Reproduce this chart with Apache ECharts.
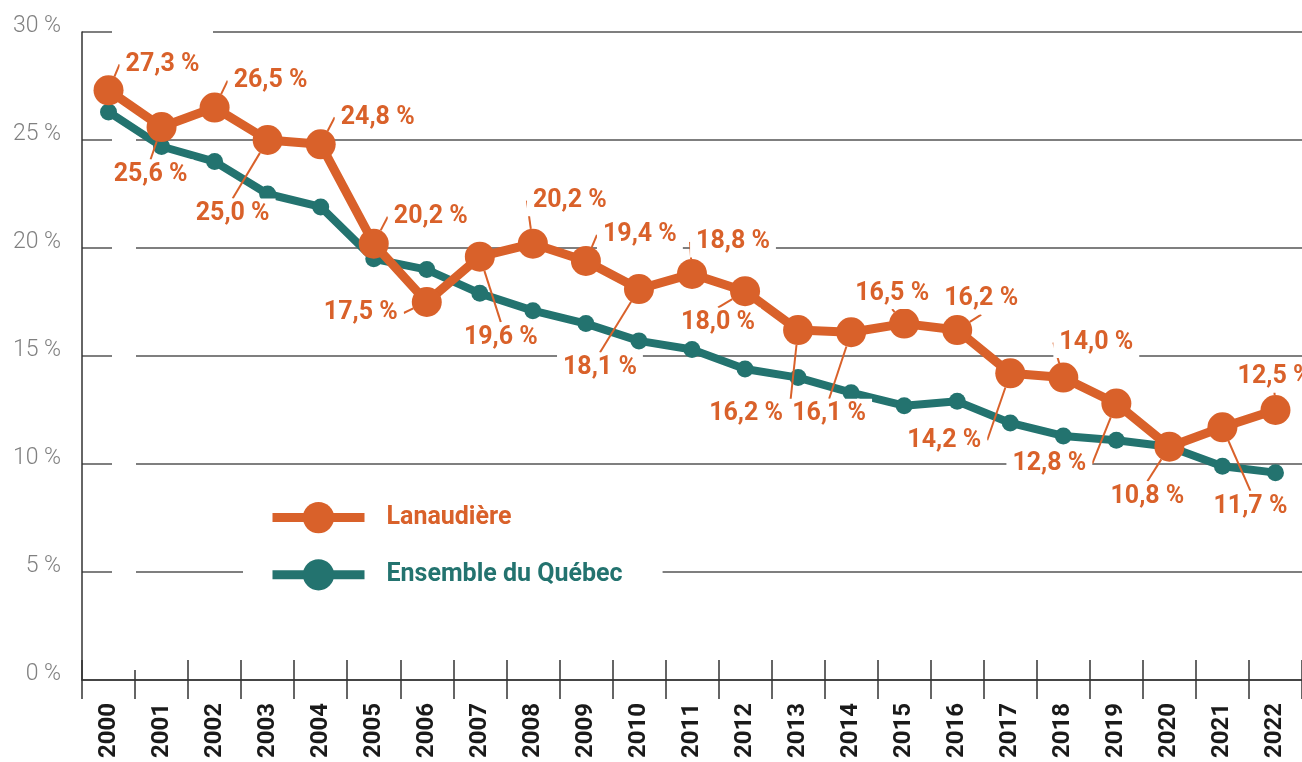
<!DOCTYPE html>
<html style="height: 100%">
<head>
    <meta charset="UTF-8">
</head>
<body style="height: 100%; margin: 0; background: #fff">
<div id="container" style="width: 1302px; height: 762px"></div>
<script type="text/javascript" src="https://cdn.jsdelivr.net/npm/echarts@6/dist/echarts.min.js"></script>
<script type="text/javascript">
var years = ['2000', '2001', '2002', '2003', '2004', '2005', '2006', '2007', '2008', '2009', '2010', '2011',
    '2012', '2013', '2014', '2015', '2016', '2017', '2018', '2019', '2020', '2021', '2022'];
var lanaudiere = [27.3, 25.6, 26.5, 25.0, 24.8, 20.2, 17.5, 19.6, 20.2, 19.4, 18.1, 18.8,
    18.0, 16.2, 16.1, 16.5, 16.2, 14.2, 14.0, 12.8, 10.8, 11.7, 12.5];
var quebec = [26.3, 24.7, 24.0, 22.5, 21.9, 19.5, 19.0, 17.9, 17.1, 16.5, 15.7, 15.3,
    14.4, 14.0, 13.3, 12.7, 12.9, 11.9, 11.3, 11.1, 10.8, 9.9, 9.6];
var seriesNames = ['Lanaudière', 'Ensemble du Québec'];

// where each Lanaudière label sits, relative to its point [dx, dy]
var labelOffsets = [[54, -26], [-11, 48], [56, -27], [-35, 74], [57, -27], [57, -27], [-66, 11],
    [21, 81], [37, -43], [54, -26], [-39, 79], [41, -32], [-27, 32], [-52, 84], [-22, 82],
    [-12, -30], [24, -31], [-66, 67], [33, -35], [-67, 60], [-22, 50], [28, 79], [-1, -33]];

var orange = '#D9612A';
var teal = '#23736F';
var font = 'Roboto';

var myChart = echarts.init(document.getElementById('container'));
var option = {
    animation: false,
    textStyle: { fontFamily: font },
    grid: { left: 82, right: 0, top: 32, bottom: 82, containLabel: false },
    legend: {
        orient: 'vertical',
        left: 243,
        top: 486,
        padding: [16, 40, 16, 25],
        backgroundColor: '#fff',
        itemWidth: 92,
        itemHeight: 39,
        itemGap: 26,
        lineStyle: { width: 9 },
        textStyle: { fontSize: 25, fontWeight: 'bold', fontFamily: font, padding: [0, 0, 0, 17] },
        data: [
            { name: seriesNames[0], textStyle: { color: orange } },
            { name: seriesNames[1], textStyle: { color: teal } }
        ]
    },
    graphic: [
        { type: 'rect', z: 1, shape: { x: 112, y: 20, width: 24, height: 650 }, style: { fill: '#fff' } },
        { type: 'rect', z: 1, shape: { x: 112, y: 24, width: 101, height: 16 }, style: { fill: '#fff' } }
    ],
    xAxis: [
        {
            type: 'category',
            data: years,
            boundaryGap: true,
            axisLine: { lineStyle: { color: '#333', width: 1.5 } },
            axisTick: { show: true, interval: 0, length: 19, lineStyle: { color: '#333', width: 1.5 } },
            axisLabel: {
                interval: 0, rotate: 90, margin: 23, fontSize: 24, fontWeight: 'bold',
                color: '#1a1a1a', fontFamily: font
            },
            splitLine: { show: false }
        },
        {
            type: 'category',
            data: years,
            position: 'bottom',
            boundaryGap: true,
            axisLine: { show: false },
            axisTick: { show: true, inside: true, interval: 0, length: 20, lineStyle: { color: '#333', width: 1.5 } },
            axisLabel: { show: false },
            splitLine: { show: false }
        }
    ],
    yAxis: {
        type: 'value',
        min: 0,
        max: 30,
        interval: 5,
        axisLine: { show: true, lineStyle: { color: '#333', width: 1.5 } },
        axisTick: { show: false },
        axisLabel: {
            formatter: '{value} %', color: '#808080', fontSize: 23, fontWeight: 300,
            margin: 21, verticalAlign: 'bottom', lineHeight: 12, fontFamily: font
        },
        splitLine: { lineStyle: { color: '#555', width: 1.5 } }
    },
    series: [
        {
            name: seriesNames[0],
            type: 'line',
            z: 4,
            data: lanaudiere,
            symbol: 'circle',
            symbolSize: 30,
            lineStyle: { color: orange, width: 9 },
            itemStyle: { color: orange },
            label: {
                show: true,
                position: 'inside',
                color: orange,
                fontSize: 25,
                fontWeight: 'bold',
                fontFamily: font,
                backgroundColor: '#fff',
                padding: [3, 6],
                formatter: function (p) {
                    return p.value.toFixed(1).replace('.', ',') + ' %';
                }
            },
            labelLine: { show: true, lineStyle: { color: orange, width: 2 } },
            labelLayout: function (p) {
                var o = labelOffsets[p.dataIndex];
                return { dx: o[0], dy: o[1] };
            }
        },
        {
            name: seriesNames[1],
            type: 'line',
            z: 3,
            data: quebec,
            symbol: 'circle',
            symbolSize: 17,
            lineStyle: { color: teal, width: 8 },
            itemStyle: { color: teal }
        }
    ]
};
option && myChart.setOption(option);
</script>
</body>
</html>
